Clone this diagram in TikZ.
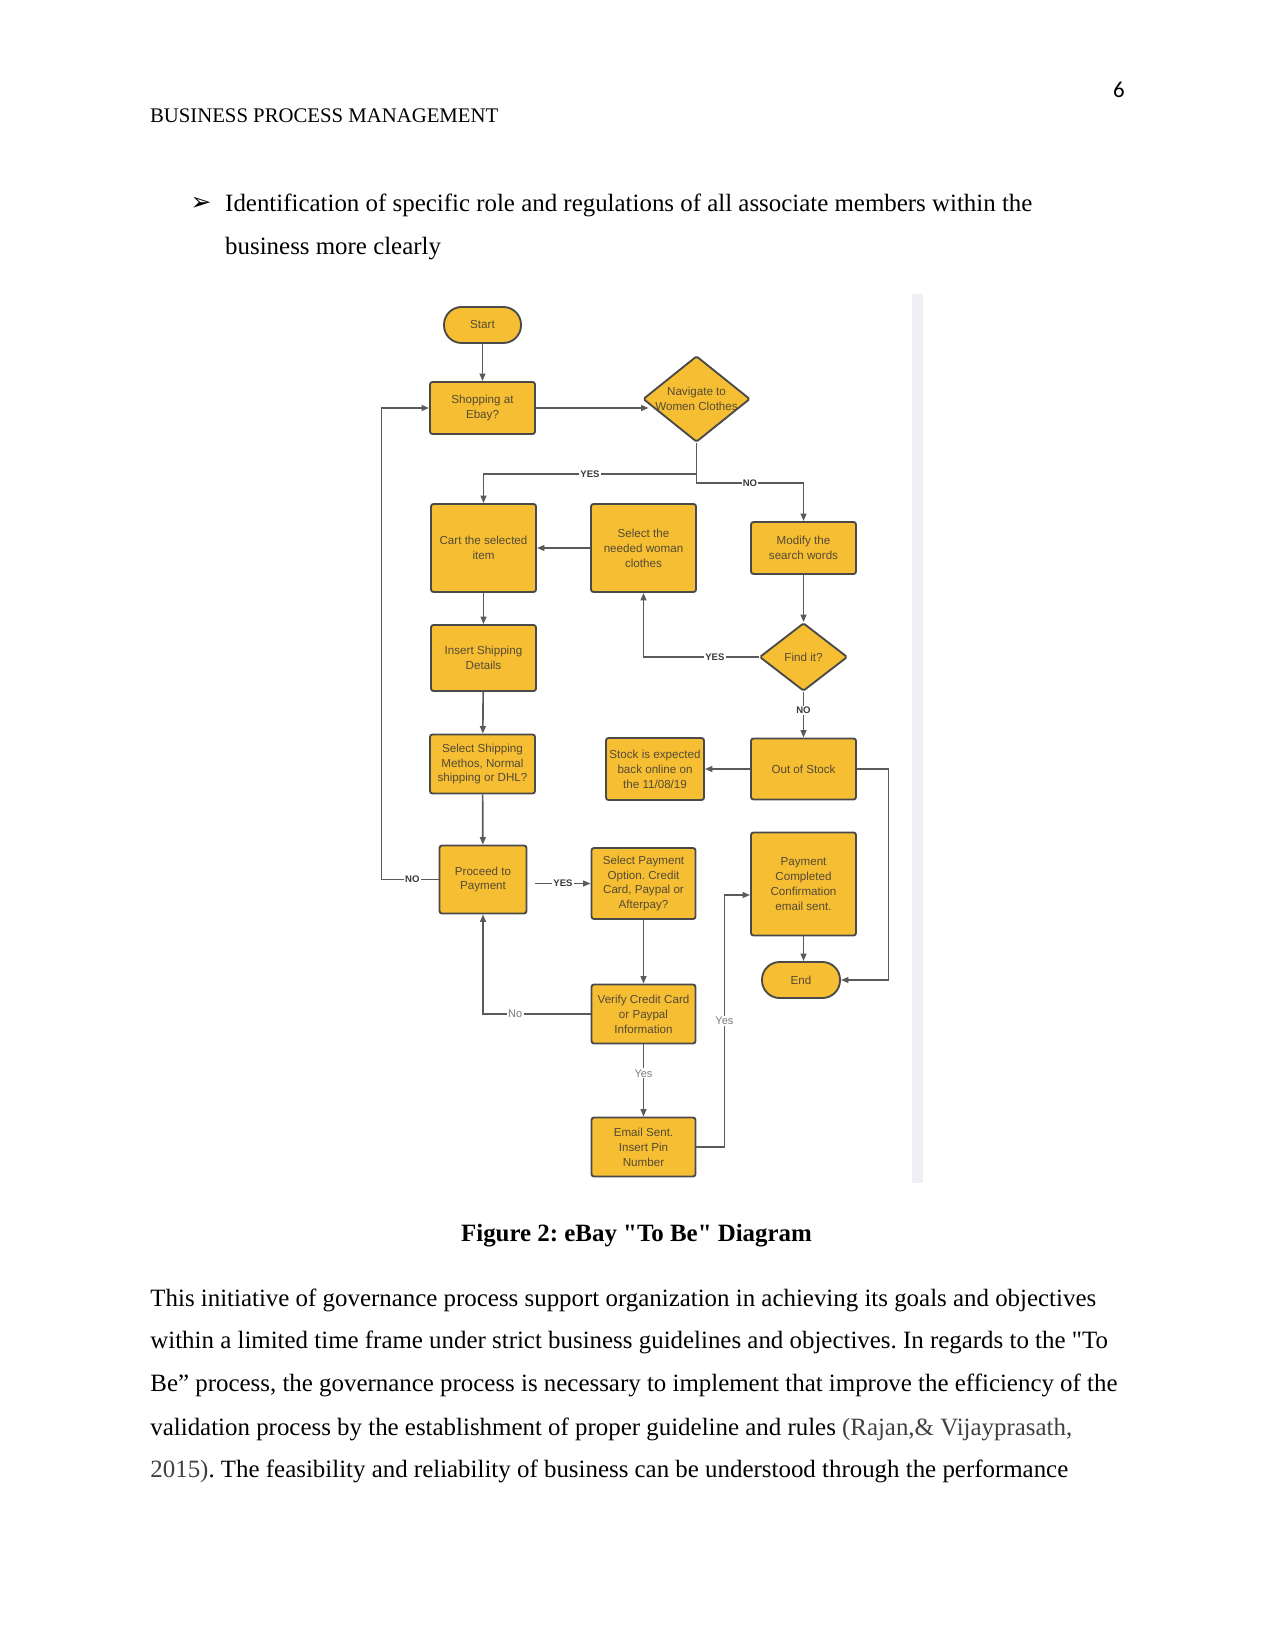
\documentclass[tikz,border=0pt]{standalone}
\usepackage{fontspec}
\setmainfont{Liberation Serif}
\newfontfamily\diagfont{Liberation Sans}
\newfontfamily\numfont{Carlito}
\newfontfamily\symfont{DejaVu Sans}
\usetikzlibrary{shapes.geometric,arrows.meta,calc}
\frenchspacing
\definecolor{boxfill}{HTML}{F6BE33}
\definecolor{boxline}{HTML}{4A4A4A}
\definecolor{linecol}{HTML}{5A5A5A}
\definecolor{boxtext}{HTML}{554A35}
\definecolor{labtext}{HTML}{3A3A3A}
\definecolor{lightlab}{HTML}{7A7A7A}
\definecolor{barcol}{HTML}{EEF0F5}
\definecolor{citecol}{HTML}{404040}
\newdimen\pxu \pxu=0.4818pt
\tikzset{
  box/.style={draw=boxline, line width=0.9pt, fill=boxfill, rounded corners=1.2pt,
    font=\diagfont\fontsize{5.6}{7.2}\selectfont, text=boxtext, align=center, inner sep=0pt},
  bx/.style 2 args={box, rectangle, minimum width=#1\pxu, minimum height=#2\pxu},
  pill/.style 2 args={box, rectangle, rounded corners=8.5pt, minimum width=#1\pxu, minimum height=#2\pxu},
  dia/.style 2 args={box, diamond, rounded corners=0.8pt, minimum width=#1\pxu, minimum height=#2\pxu},
  dtext/.style={font=\diagfont\fontsize{5.6}{7.2}\selectfont, text=boxtext, align=center, inner sep=0pt},
  conn/.style={draw=linecol, line width=0.8pt},
  arr/.style={conn, -{Triangle[length=3.6pt,width=2.8pt]}},
  lab/.style={font=\diagfont\bfseries\fontsize{4.6}{5}\selectfont, text=labtext, fill=white, inner sep=0.6pt},
  labl/.style={font=\diagfont\fontsize{5.3}{6}\selectfont, text=lightlab, fill=white, inner sep=0.6pt},
  body/.style={anchor=base west, inner sep=0pt, font=\fontsize{12}{14}\selectfont}
}
\begin{document}
\begin{tikzpicture}[x=0.4818pt,y=-0.4818pt]
\useasboundingbox (0,0) rectangle (1275,1651);
\fill[white] (0,0) rectangle (1275,1651);

% page text
\node[anchor=base, inner sep=0pt, font=\numfont\fontsize{11}{13}\selectfont] (pgnum) at (1119,98) {6};
\node[anchor=base west, inner sep=0pt, font=\fontsize{10}{12}\selectfont] (header) at (149.6,122.3) {BUSINESS PROCESS MANAGEMENT};
\node[inner sep=0pt, font=\symfont\fontsize{12}{13}\selectfont] (bullet) at (201,204) {➢};
\node[body] (bl1) at (224.8,211.7) {Identification of specific role and regulations of all associate members within the};
\node[body] (bl2) at (224.8,255) {business more clearly};
\node[anchor=base, inner sep=0pt, font=\bfseries\fontsize{12}{14}\selectfont] (cap) at (636.5,1241.7) {Figure 2: eBay \textquotedbl To Be\textquotedbl{} Diagram};
\node[body] (p1) at (150,1306) {This initiative of governance process support organization in achieving its goals and objectives};
\node[body] (p2) at (150,1348.5) {within a limited time frame under strict business guidelines and objectives. In regards to the \textquotedbl To};
\node[body] (p3) at (150,1391.7) {Be” process, the governance process is necessary to implement that improve the efficiency of the};
\node[body] (p4) at (150,1435) {validation process by the establishment of proper guideline and rules {\color{citecol}(Rajan,\& Vijayprasath,}};
\node[body] (p5) at (150,1477.7) {{\color{citecol}2015)}. The feasibility and reliability of business can be understood through the performance};

% grey strip at the right of the figure
\fill[barcol] (912,294) rectangle (923,1183);

% nodes
\node[pill={77}{36}] (start) at (482.5,325) {Start};
\node[bx={105}{52}] (shop) at (482.5,408) {Shopping at\\Ebay?};
\node[dia={107}{86}, label={[dtext]center:{Navigate to\\Women Clothes}}] (nav) at (696.5,399) {};
\node[bx={105}{88}] (cart) at (483.5,548) {Cart the selected\\item};
\node[bx={105}{88}] (sel) at (643.5,548) {Select the\\needed woman\\clothes};
\node[bx={105}{52}] (mod) at (803.5,548) {Modify the\\search words};
\node[dia={88}{68}, label={[dtext]center:{Find it?}}] (find) at (803.5,657) {};
\node[bx={105}{66}] (ins) at (483.5,658) {Insert Shipping\\Details};
\node[bx={105}{59}] (ship) at (482.5,764) {Select Shipping\\Methos, Normal\\shipping or DHL?};
\node[bx={98}{62}] (stock) at (655,769) {Stock is expected\\back online on\\the 11/08/19};
\node[bx={105}{61}] (oos) at (803.5,769) {Out of Stock};
\node[bx={87}{68}] (proc) at (483,879.5) {Proceed to\\Payment};
\node[bx={104}{71}] (pay) at (643.5,883.5) {Select Payment\\Option. Credit\\Card, Paypal or\\Afterpay?};
\node[bx={105}{103}] (comp) at (803.5,884) {Payment\\Completed\\Confirmation\\email sent.};
\node[pill={78}{36}] (fin) at (801,980) {End};
\node[bx={104}{59}] (ver) at (643.5,1014) {Verify Credit Card\\or Paypal\\Information};
\node[bx={104}{59}] (email) at (643.5,1147) {Email Sent.\\Insert Pin\\Number};

% connectors
\coordinate (navin) at ($(nav.west)+(6.5,9)$);
\draw[arr] (start) -- (shop);
\draw[arr] (shop.east) -- (navin);
\draw[arr] (nav.south) -- ++(0,31) -| node[lab,pos=0.25]{YES} (cart.north);
\draw[arr] (nav.south) -- ++(0,40) -| node[lab,pos=0.25]{NO} (mod.north);
\draw[arr] (sel.west) -- (cart.east);
\draw[arr] (cart) -- (ins);
\draw[arr] (mod) -- (find);
\draw[arr] (find.west) -| node[lab,pos=0.19]{YES} (sel.south);
\draw[arr] (find.south) -- node[lab,pos=0.4]{NO} (oos.north);
\draw[arr] (ins) -- (ship);
\draw[arr] (oos.west) -- (stock.east);
\draw[arr] (oos.east) -- ++(31.5,0) |- (fin.east);
\draw[arr] (ship) -- (proc);
\draw[arr] (proc.west) -- node[lab,pos=0.46]{NO} ++(-57,0) |- (shop.west);
\draw[arr] ($(proc.east)+(8,4)$) -- node[lab]{YES} (pay.west);
\draw[arr] (pay) -- (ver);
\draw[arr] (ver.west) -| node[labl,pos=0.35]{No} (proc.south);
\draw[arr] (ver) -- node[labl,pos=0.4]{Yes} (email);
\draw[arr] (email.east) -- ++(28,0) |- node[labl,pos=0.25]{Yes} ($(comp.west)+(0,11)$);
\draw[arr] (comp.south) -- (comp.south |- fin.north);
\end{tikzpicture}
\end{document}
